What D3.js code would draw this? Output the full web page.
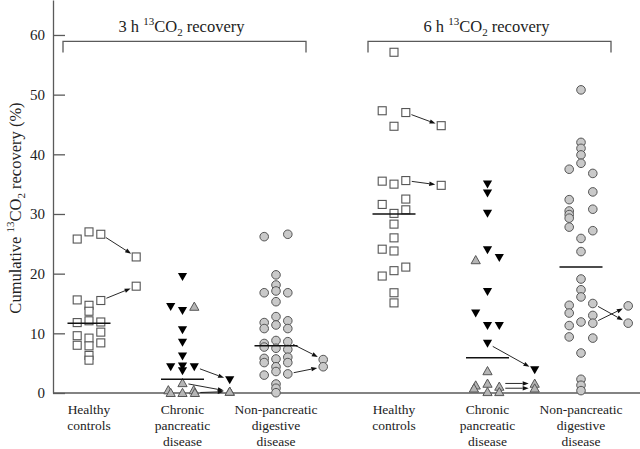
<!DOCTYPE html>
<html><head><meta charset="utf-8">
<script src="https://cdn.jsdelivr.net/npm/d3@7"></script>
<style>body{margin:0;background:#fff}svg{display:block}</style>
</head><body><svg id="c" width="640" height="449" font-family="'Liberation Serif', 'DejaVu Serif', serif"></svg>
<script>
// ---------- DATA ----------
const panels = ["3 h", "6 h"];
const groups = ["Healthy controls", "Chronic pancreatic disease", "Non-pancreatic digestive disease"];
const groupLabelLines = [["Healthy", "controls"], ["Chronic", "pancreatic", "disease"], ["Non-pancreatic", "digestive", "disease"]];
const yTicks = [0, 10, 20, 30, 40, 50, 60];

// value lists with column index (-1 left, 0 centre, 1 right)
const healthy3h    = [27.0, 26.6, 25.8, 15.6, 15.5, 14.7, 13.7, 12.1, 11.9, 11.8, 10.2, 9.6, 9.2, 8.4, 8.0, 7.9, 6.3, 5.5];
const healthy3hCol = [0, 1, -1, -1, 1, 0, 0, 0, 1, -1, 1, -1, 0, 1, -1, 0, 0, 0];
const healthy6h    = [57.1, 47.3, 47.0, 44.7, 35.5, 35.0, 35.6, 31.6, 32.5, 30.7, 30.1, 28.3, 26.0, 24.1, 23.8, 21.1, 20.5, 19.6, 16.8, 15.1];
const healthy6hCol = [0, -1, 1, 0, -1, 0, 1, -1, 1, 1, 0, 0, 0, -1, 0, 1, 0, -1, 0, 0];

const chronicSteat3h    = [19.5, 14.5, 13.8, 10.6, 8.5, 6.2, 4.4, 4.5, 3.7, 4.4];
const chronicSteat3hCol = [0, -1, 0, 0, 0, 0, -1, 0, 0, 1];
const chronicSteat6h    = [35.0, 33.5, 30.1, 24.0, 22.7, 17.0, 13.4, 11.3, 11.3, 8.3];
const chronicSteat6hCol = [0, 0, 0, 0, 1, 0, -1, 0, 1, 0];
const chronicOther3h    = [14.5, 1.7, 0.5, 0.05, 0.05, 0.5, 0.05];
const chronicOther3hCol = [1, 0, -1.2, -1, 0, 0.95, 1.05];
const chronicOther6h    = [22.3, 3.7, 1.3, 0.8, 1.6, 0.2, 1.1, 0.2];
const chronicOther6hCol = [-1, 0, -1, -1.15, 0, 0, 1, 1];

const nonPanc3h    = [26.2, 26.6, 19.8, 18.1, 16.8, 17.1, 16.8, 15.3, 12.8, 11.8, 10.8, 11.4, 12.1, 10.8, 8.3, 7.7, 8.8, 7.5, 8.6, 7.3, 5.8, 5.1, 5.7, 6.0, 5.1, 4.4, 3.6, 3.0, 3.2, 1.5, 0.8, 0.05];
const nonPanc3hCol = [-1, 1, 0, 0, -1, 0, 1, 0, 0, -1, -1, 0, 1, 1, -1, -1, 0, 0, 1, 1, -1, -1, 0, 1, 1, 0, 0, -1, 1, 0, 0, 0];
const nonPanc6h    = [50.8, 42.0, 41.0, 39.9, 38.5, 37.5, 36.8, 33.7, 32.4, 30.8, 30.5, 29.9, 29.3, 27.8, 27.2, 25.9, 23.7, 19.1, 17.3, 16.1, 14.7, 13.4, 15.0, 13.0, 11.7, 11.9, 11.3, 9.4, 9.2, 6.7, 2.3, 1.3, 0.4];
const nonPanc6hCol = [0, 0, 0, 0, 0, -1, 1, 1, -1, 1, -1, -1, -1, -1, 1, 0, 0, 0, 0, 0, -1, -1, 1, 1, 1, 0, -1, -1, 1, 0, 0, 0, 0];

const medians3h = [11.7, 2.3, 7.9];
const medians6h = [30.0, 5.9, 21.1];

// shifted values
const shiftPanel = ["3 h", "3 h", "3 h", "3 h", "3 h", "3 h", "3 h", "6 h", "6 h", "6 h", "6 h", "6 h", "6 h", "6 h"];
const shiftGroup = [0, 0, 1, 1, 1, 2, 2, 0, 0, 1, 1, 1, 2, 2];
const shiftKind  = ["square", "square", "down", "up", "up", "circle", "circle", "square", "square", "down", "up", "up", "circle", "circle"];
const shiftFrom  = [26.6, 15.5, 4.4, 1.7, 0.05, 8.6, 3.2, 47.0, 35.6, 8.3, 1.6, 0.8, 15.0, 11.7];
const shiftFromCol = [1, 1, 1, 0, 1, 1, 1, 1, 1, 0, 1, 1, 1, 1];
const shiftTo    = [22.8, 17.9, 2.2, 0.25, 0.25, 5.6, 4.4, 44.8, 34.8, 3.9, 1.6, 0.8, 11.7, 14.6];
const shiftToCol = 4;

// ---------- SCALES ----------
const FONT = "'Liberation Serif', 'DejaVu Serif', serif";
const svg = d3.select("#c");
const y = d3.scaleLinear().domain([0, 65.86]).range([393, 0]);
const xPanel = d3.scalePoint().domain(panels).range([89, 394]);
const xGroup = d3.scalePoint().domain([0, 1, 2]).range([0, 187]);
const xCol = d3.scaleLinear().domain([0, 1]).range([0, 11.8]);
const gx = (p, g) => xPanel(p) + xGroup(g);
const X = (p, g, c) => gx(p, g) + xCol(c);

// ---------- AXES ----------
const axisColor = "#5a5a5a";
const yAxis = svg.append("g").attr("transform", "translate(53,0)")
  .call(d3.axisLeft(y).tickValues(yTicks).tickSizeInner(-12).tickSizeOuter(0).tickPadding(8));
yAxis.attr("font-family", FONT).attr("font-size", 15);
yAxis.select(".domain").attr("stroke", axisColor).attr("stroke-width", 1.3);
yAxis.selectAll(".tick line").attr("stroke", axisColor).attr("stroke-width", 1.3);
yAxis.selectAll(".tick text").attr("fill", "#222");

svg.append("line").attr("x1", 53).attr("x2", 640).attr("y1", y(0)).attr("y2", y(0))
  .attr("stroke", axisColor).attr("stroke-width", 1.3);

// y label
const yl = svg.append("text").attr("transform", "translate(21,208) rotate(-90)")
  .attr("text-anchor", "middle").attr("font-size", 16.5);
yl.append("tspan").text("Cumulative ");
yl.append("tspan").text("13").attr("font-size", 11).attr("dy", -7);
yl.append("tspan").text("CO").attr("dy", 7);
yl.append("tspan").text("2").attr("font-size", 11).attr("dy", 4);
yl.append("tspan").text(" recovery (%)").attr("dy", -4);

// ---------- BRACKETS & TITLES ----------
panels.forEach(p => {
  const x0 = gx(p, 0) - 26, x1 = gx(p, 2) + 30;
  svg.append("path").attr("d", `M${x0},52.5V41.3H${x1}V52.5`)
    .attr("fill", "none").attr("stroke", axisColor).attr("stroke-width", 1.3);
  const t = svg.append("text").attr("x", (x0 + x1) / 2 - 3).attr("y", 32)
    .attr("text-anchor", "middle").attr("font-size", 16.5);
  t.append("tspan").text(p + " ");
  t.append("tspan").text("13").attr("font-size", 11).attr("dy", -7);
  t.append("tspan").text("CO").attr("dy", 7);
  t.append("tspan").text("2").attr("font-size", 11).attr("dy", 4);
  t.append("tspan").text(" recovery").attr("dy", -4);
});

// ---------- GROUP LABELS ----------
panels.forEach(p => {
  groups.forEach((g, gi) => {
    const t = svg.append("text").attr("x", gx(p, gi)).attr("y", 414)
      .attr("text-anchor", "middle").attr("font-size", 13.5);
    groupLabelLines[gi].forEach((line, li) => {
      t.append("tspan").attr("x", gx(p, gi)).attr("dy", li === 0 ? 0 : 16).text(line);
    });
  });
});

// ---------- MARKERS ----------
function drawMarker(kind, cx, cy) {
  if (kind === "square") {
    svg.append("rect").attr("x", cx - 4).attr("y", cy - 4).attr("width", 8).attr("height", 8)
      .attr("fill", "#fff").attr("stroke", "#555").attr("stroke-width", 1.1);
  } else if (kind === "circle") {
    svg.append("circle").attr("cx", cx).attr("cy", cy).attr("r", 4.3)
      .attr("fill", "#c9c9c9").attr("stroke", "#555").attr("stroke-width", 1);
  } else if (kind === "down") {
    svg.append("path").attr("d", `M${cx - 4.6},${cy - 3.6}L${cx + 4.6},${cy - 3.6}L${cx},${cy + 4.4}Z`)
      .attr("fill", "#000");
  } else {
    svg.append("path").attr("d", `M${cx - 4.6},${cy + 3.8}L${cx + 4.6},${cy + 3.8}L${cx},${cy - 4.4}Z`)
      .attr("fill", "#b5b5b5").attr("stroke", "#555").attr("stroke-width", 1);
  }
}

const series = [
  ["3 h", 0, "square", healthy3h, healthy3hCol],
  ["6 h", 0, "square", healthy6h, healthy6hCol],
  ["3 h", 1, "up", chronicOther3h, chronicOther3hCol],
  ["6 h", 1, "up", chronicOther6h, chronicOther6hCol],
  ["3 h", 1, "down", chronicSteat3h, chronicSteat3hCol],
  ["6 h", 1, "down", chronicSteat6h, chronicSteat6hCol],
  ["3 h", 2, "circle", nonPanc3h, nonPanc3hCol],
  ["6 h", 2, "circle", nonPanc6h, nonPanc6hCol]
];
series.forEach(([p, g, kind, vals, cols]) => {
  vals.forEach((v, i) => drawMarker(kind, X(p, g, cols[i]), y(v)));
});

// medians
[[panels[0], medians3h], [panels[1], medians6h]].forEach(([p, meds]) => {
  meds.forEach((m, gi) => {
    svg.append("line").attr("x1", gx(p, gi) - 21.5).attr("x2", gx(p, gi) + 21.5)
      .attr("y1", y(m)).attr("y2", y(m)).attr("stroke", "#111").attr("stroke-width", 1.5);
  });
});

// shifted points and arrows
shiftFrom.forEach((fv, i) => {
  const p = shiftPanel[i], g = shiftGroup[i];
  const x1 = X(p, g, shiftFromCol[i]), y1 = y(fv);
  const x2 = X(p, g, shiftToCol), y2 = y(shiftTo[i]);
  drawMarker(shiftKind[i], x2, y2);
  const dx = x2 - x1, dy = y2 - y1, L = Math.hypot(dx, dy);
  const ux = dx / L, uy = dy / L;
  const sx = x1 + ux * 6, sy = y1 + uy * 6;
  const ex = x2 - ux * 6, ey = y2 - uy * 6;
  const hl = 6, hw = 2.2;
  const bx = ex - ux * hl, by = ey - uy * hl;
  svg.append("line").attr("x1", sx).attr("y1", sy).attr("x2", bx).attr("y2", by)
    .attr("stroke", "#111").attr("stroke-width", 0.9);
  svg.append("path").attr("d", `M${ex},${ey}L${bx - uy * hw},${by + ux * hw}L${bx + uy * hw},${by - ux * hw}Z`)
    .attr("fill", "#111");
});

svg.selectAll("text").attr("font-family", FONT).style("font-family", FONT).attr("fill", "#222");
</script></body></html>
